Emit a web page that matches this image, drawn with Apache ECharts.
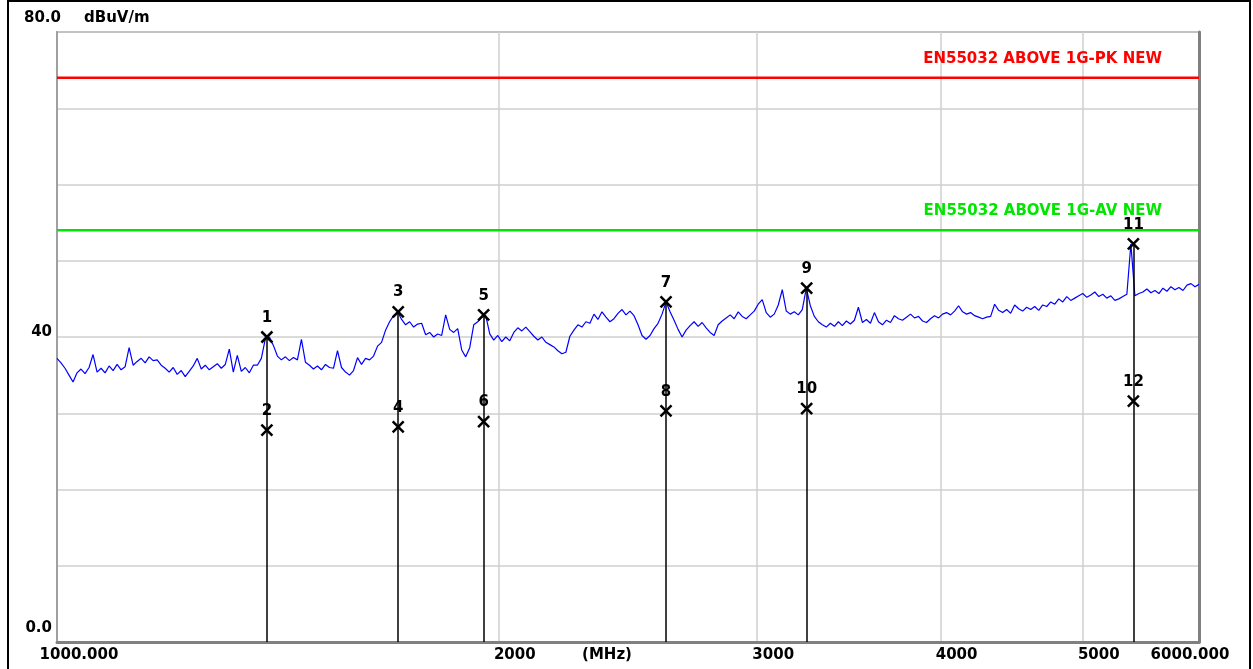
<!DOCTYPE html>
<html>
<head>
<meta charset="utf-8">
<title>EMI scan</title>
<script src="https://cdn.jsdelivr.net/npm/echarts@6/dist/echarts.min.js"></script>
<style>
    html, body { margin: 0; padding: 0; background: #fff; }
    #chart_container { width: 1253px; height: 669px; }
</style>
</head>
<body>
<div id="chart_container"></div>
<script>
"use strict";

// sweep 1000..6000 MHz, log spaced, one level per sweep point (dBuV/m)
var sweepStart = 1000, sweepStop = 6000;
var traceLevels = [
    37.2, 36.6, 35.9, 35.0, 34.1, 35.3, 35.8, 35.2, 36.0, 37.7, 35.4, 35.9, 35.3, 36.2, 35.6, 36.4, 35.7, 36.1, 38.6, 36.3, 36.8, 37.2, 36.6, 37.4, 36.9,
    37.0, 36.3, 35.9, 35.4, 36.0, 35.1, 35.6, 34.8, 35.5, 36.2, 37.2, 35.8, 36.3, 35.7, 36.1, 36.5, 35.9, 36.4, 38.4, 35.4, 37.6, 35.5, 36.0, 35.3, 36.3,
    36.3, 37.2, 39.8, 40.0, 38.9, 37.5, 37.0, 37.4, 36.9, 37.3, 37.0, 39.7, 36.7, 36.3, 35.8, 36.2, 35.7, 36.4, 36.0, 35.9, 38.2, 36.0, 35.4, 35.0, 35.6,
    37.3, 36.4, 37.2, 37.0, 37.5, 38.8, 39.3, 40.9, 42.0, 42.8, 43.3, 42.3, 41.6, 42.0, 41.3, 41.7, 41.8, 40.3, 40.6, 40.0, 40.4, 40.2, 42.9, 41.0, 40.6,
    41.1, 38.3, 37.4, 38.6, 41.6, 42.0, 42.6, 42.8, 40.4, 39.6, 40.2, 39.4, 40.0, 39.5, 40.6, 41.2, 40.8, 41.3, 40.7, 40.1, 39.6, 40.0, 39.3, 39.0, 38.7,
    38.2, 37.8, 38.0, 40.1, 40.9, 41.6, 41.3, 42.0, 41.8, 43.0, 42.3, 43.3, 42.6, 42.0, 42.4, 43.1, 43.6, 42.9, 43.4, 42.8, 41.6, 40.2, 39.7, 40.2, 41.1,
    41.8, 43.0, 44.6, 43.3, 42.2, 41.0, 40.0, 40.9, 41.5, 42.0, 41.4, 41.9, 41.2, 40.6, 40.2, 41.6, 42.1, 42.5, 42.9, 42.4, 43.3, 42.7, 42.4, 42.9, 43.4,
    44.3, 44.9, 43.2, 42.6, 43.0, 44.2, 46.2, 43.4, 43.0, 43.3, 42.9, 43.6, 46.4, 44.1, 42.7, 42.0, 41.6, 41.3, 41.8, 41.4, 42.0, 41.5, 42.1, 41.7, 42.2,
    43.9, 41.9, 42.3, 41.8, 43.2, 42.0, 41.6, 42.2, 41.9, 42.8, 42.4, 42.2, 42.6, 43.0, 42.5, 42.7, 42.1, 41.9, 42.4, 42.8, 42.5, 43.0, 43.2, 42.9, 43.4,
    44.1, 43.3, 43.0, 43.2, 42.8, 42.6, 42.4, 42.6, 42.7, 44.3, 43.5, 43.2, 43.6, 43.1, 44.2, 43.7, 43.4, 43.9, 43.6, 44.0, 43.5, 44.2, 44.0, 44.6, 44.3,
    45.0, 44.6, 45.3, 44.8, 45.1, 45.4, 45.7, 45.2, 45.5, 45.9, 45.3, 45.6, 45.1, 45.4, 44.8, 45.0, 45.3, 45.6, 52.2, 45.4, 45.7, 45.9, 46.3, 45.8, 46.1,
    45.7, 46.4, 46.0, 46.6, 46.2, 46.5, 46.1, 46.8, 47.0, 46.6, 46.9
];

// limit lines
var limitNames = ['EN55032 ABOVE 1G-PK NEW', 'EN55032 ABOVE 1G-AV NEW'];
var limitPk = [74, 74];
var limitAv = [54, 54];

// markers: odd numbers = peak, even numbers = average
var markerFreqs = [1390, 1708, 1953, 2600, 3242, 5413];
var peakLevels = [40.0, 43.3, 42.9, 44.6, 46.4, 52.2];
var avgLevels = [27.8, 28.2, 28.9, 30.3, 30.6, 31.6];

// axis texts
var xTicks = [1000, 2000, 3000, 4000, 5000, 6000];
var xTickLabels = ['1000.000', '2000', '3000', '4000', '5000', '6000.000'];
var yTicks = [0, 40];
var yTickLabels = ['0.0', '40'];
var yTopLabel = '80.0';
var yUnit = 'dBuV/m';
var xUnit = '(MHz)';

var FONT = '"DejaVu Sans"';

function drawChart() {
    var myChart = echarts.init(document.getElementById('chart_container'));

    var n = traceLevels.length;
    var traceData = [];
    for (var i = 0; i < n; i++) {
        var f = sweepStart * Math.pow(sweepStop / sweepStart, i / (n - 1));
        traceData.push([f, traceLevels[i]]);
    }

    var markerData = [], markerLines = [];
    for (var k = 0; k < markerFreqs.length; k++) {
        markerData.push({name: String(2 * k + 1), value: [markerFreqs[k], peakLevels[k]]});
        markerData.push({name: String(2 * k + 2), value: [markerFreqs[k], avgLevels[k]]});
        markerLines.push([{coord: [markerFreqs[k], 0]}, {coord: [markerFreqs[k], peakLevels[k]]}]);
    }

    function tickIndex(list, v) {
        for (var j = 0; j < list.length; j++) {
            if (Math.abs(list[j] - v) < 0.5) return j;
        }
        return -1;
    }

    function limitSeries(name, levels, color) {
        return {
            name: name,
            type: 'line',
            z: 3,
            symbol: 'circle',
            symbolSize: 0,
            lineStyle: {color: color, width: 2.5},
            itemStyle: {color: color},
            data: [
                [sweepStart, levels[0]],
                {
                    value: [sweepStop, levels[1]],
                    label: {
                        show: true,
                        position: 'left',
                        distance: 37,
                        offset: [0, -19],
                        formatter: name,
                        color: color,
                        fontFamily: FONT,
                        fontWeight: 'bold',
                        fontSize: 15
                    }
                }
            ]
        };
    }

    var option = {
        animation: false,
        backgroundColor: '#fff',
        grid: {
            left: 57, top: 32, right: 54, bottom: 27,
            outerBoundsMode: 'none',
            containLabel: false,
            show: true, borderColor: '#a0a0a0', borderWidth: 2, backgroundColor: '#fff'
        },
        xAxis: {
            type: 'log',
            logBase: 10,
            min: sweepStart,
            max: sweepStop,
            name: xUnit,
            nameLocation: 'middle',
            nameGap: 6,
            nameMoveOverlap: false,
            nameTextStyle: {
                color: '#000', fontFamily: FONT, fontWeight: 'bold', fontSize: 15,
                verticalAlign: 'top', padding: [0, 42, 0, 0]
            },
            axisLine: {show: true, onZero: false, lineStyle: {color: '#808080', width: 3}},
            axisTick: {show: false, customValues: xTicks},
            axisLabel: {
                customValues: xTicks,
                margin: 6,
                color: '#000', fontFamily: FONT, fontWeight: 'bold', fontSize: 15,
                formatter: function (v) {
                    var j = tickIndex(xTicks, v);
                    if (j < 0) return '';
                    if (j === 0) return '{l|' + xTickLabels[j] + '}';
                    if (j === xTicks.length - 1) return '{r|' + xTickLabels[j] + '}';
                    return '{m|' + xTickLabels[j] + '}';
                },
                rich: {
                    l: {padding: [0, 0, 0, 44]},
                    m: {padding: [0, 0, 0, 32]},
                    r: {padding: [0, 18, 0, 0]}
                }
            },
            splitLine: {show: true, lineStyle: {color: '#cfcfcf', width: 1.5}}
        },
        yAxis: [{
            type: 'value',
            min: 0,
            max: 80,
            interval: 10,
            axisLine: {show: true, lineStyle: {color: '#a0a0a0', width: 2}},
            axisTick: {show: false},
            axisLabel: {
                customValues: yTicks,
                margin: 5,
                verticalAlign: 'bottom',
                lineHeight: 9,
                color: '#000', fontFamily: FONT, fontWeight: 'bold', fontSize: 15,
                formatter: function (v) {
                    var j = tickIndex(yTicks, v);
                    if (j < 0) return '';
                    return j === 0 ? '{b|' + yTickLabels[j] + '}' : '{a|' + yTickLabels[j] + '}';
                },
                rich: {
                    a: {lineHeight: 9},
                    b: {lineHeight: 9, padding: [0, 0, 19, 0]}
                }
            },
            splitLine: {show: true, lineStyle: {color: '#cfcfcf', width: 1.5}}
        }, {
            type: 'value',
            min: 0,
            max: 80,
            position: 'right',
            axisLine: {show: true, lineStyle: {color: '#808080', width: 3}},
            axisTick: {show: false},
            axisLabel: {show: false},
            splitLine: {show: false}
        }],
        graphic: [
            {
                type: 'rect', silent: true, z: 100,
                shape: {x: 8, y: 1, width: 1242, height: 690},
                style: {fill: 'none', stroke: '#000', lineWidth: 2}
            },
            {
                type: 'text', left: 24, top: 11,
                style: {text: yTopLabel, fill: '#000', font: 'bold 15px ' + FONT}
            },
            {
                type: 'text', left: 84, top: 11,
                style: {text: yUnit, fill: '#000', font: 'bold 15px ' + FONT}
            }
        ],
        series: [
            {
                name: 'marker lines',
                type: 'scatter',
                z: 2,
                data: [],
                markLine: {
                    silent: true,
                    symbol: ['none', 'none'],
                    label: {show: false},
                    lineStyle: {color: '#000', width: 1.5, type: 'solid'},
                    data: markerLines
                }
            },
            limitSeries(limitNames[0], limitPk, '#ff0000'),
            limitSeries(limitNames[1], limitAv, '#00e600'),
            {
                name: 'trace',
                type: 'line',
                z: 4,
                symbol: 'none',
                showSymbol: false,
                lineStyle: {color: '#0000ff', width: 1.2},
                data: traceData
            },
            {
                name: 'markers',
                type: 'scatter',
                z: 5,
                symbol: 'path://M0,0L10,10M10,0L0,10',
                symbolSize: 11,
                itemStyle: {color: '#000', borderColor: '#000', borderWidth: 2.5, opacity: 1},
                label: {
                    show: true,
                    position: 'top',
                    distance: 5,
                    formatter: '{b}',
                    color: '#000', fontFamily: FONT, fontWeight: 'bold', fontSize: 15
                },
                emphasis: {disabled: true},
                data: markerData
            }
        ]
    };

    myChart.setOption(option);
}

drawChart();
</script>
</body>
</html>
